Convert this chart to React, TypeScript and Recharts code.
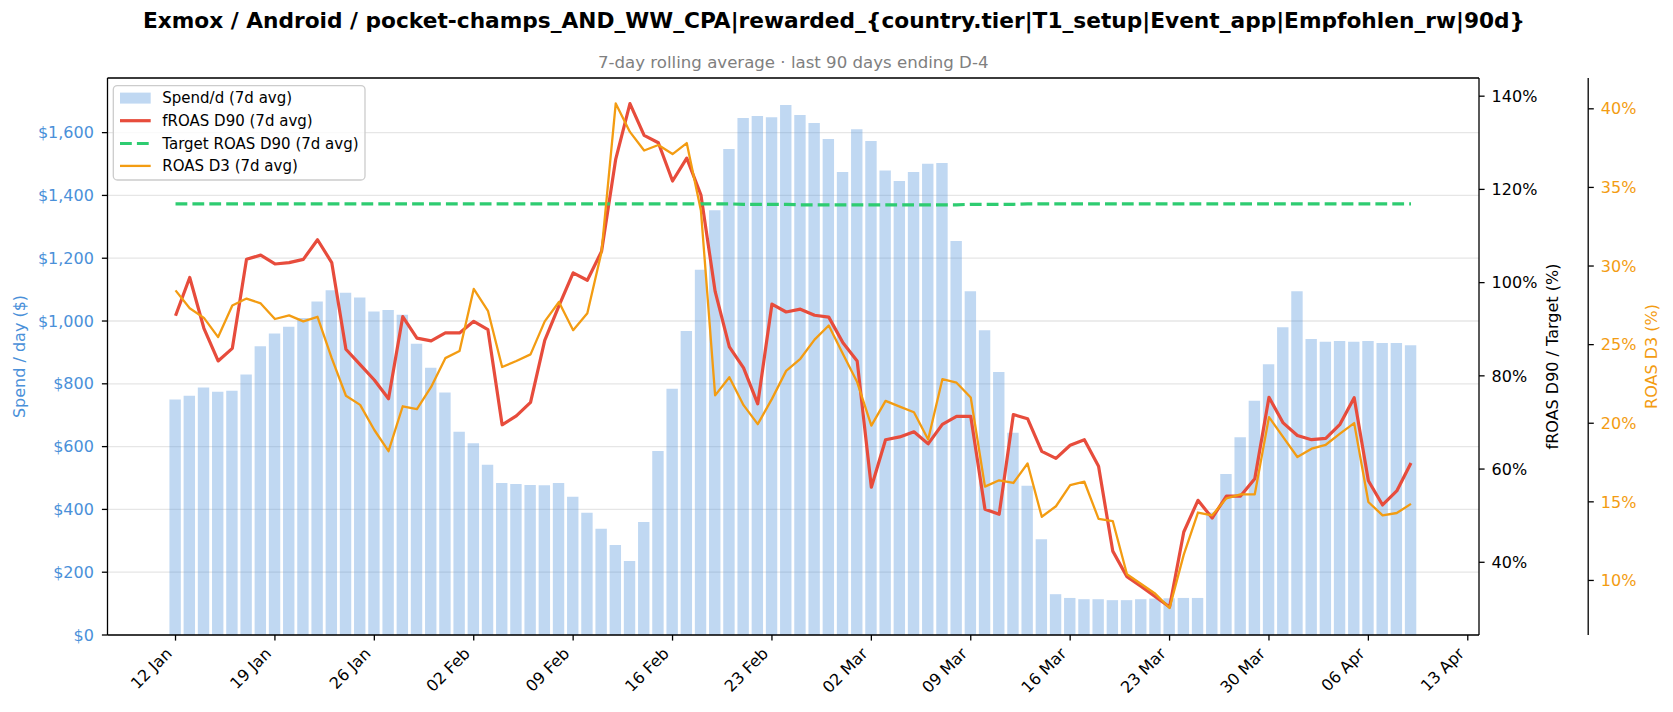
import React from 'react';
import { ComposedChart, Bar, Line, XAxis, YAxis, CartesianGrid, ReferenceLine } from 'recharts';

// ---------- data ----------
const spend = [
  750, 762, 788, 775, 778, 830, 920, 960, 982, 1010, 1062, 1098, 1090, 1075, 1030, 1035, 1020, 928, 851, 772,
  647, 611, 542, 484, 481, 478, 477, 484, 440, 389, 338, 287, 236, 360, 586, 784, 968, 1163, 1353, 1548,
  1647, 1653, 1649, 1688, 1656, 1631, 1580, 1475, 1611, 1573, 1479, 1446, 1475, 1501, 1503, 1255, 1095, 971, 838, 644,
  475, 305, 130, 118, 114, 114, 111, 111, 114, 116, 117, 118, 118, 390, 513, 630, 746, 862, 980, 1095,
  943, 934, 936, 934, 936, 930, 930, 923,
];

const froasD90 = [
  92.9, 101.1, 90.2, 83.2, 85.9, 105.0, 105.9, 104.0, 104.3, 105.0, 109.2, 104.3, 85.7, 82.4, 79.1, 75.1, 92.7, 88.1, 87.5, 89.2,
  89.2, 91.7, 89.9, 69.5, 71.4, 74.3, 87.6, 95.0, 102.1, 100.5, 106.7, 126.5, 138.4, 131.6, 130.0, 121.8, 126.7, 118.8, 98.1, 86.2,
  81.7, 74.0, 95.4, 93.7, 94.3, 93.0, 92.6, 87.1, 83.2, 56.1, 66.3, 66.9, 68.0, 65.4, 69.6, 71.3, 71.3, 51.4, 50.3, 71.7,
  70.8, 63.8, 62.3, 65.1, 66.3, 60.6, 42.4, 36.9, 34.8, 32.6, 30.4, 46.5, 53.3, 49.5, 54.2, 54.2, 57.9, 75.4, 69.9, 67.2,
  66.3, 66.6, 69.6, 75.3, 57.5, 52.3, 55.3, 61.3,
];

const targetD90 = [
  116.9, 116.9, 116.9, 116.9, 116.9, 116.9, 116.9, 116.9, 116.9, 116.9, 116.9, 116.9, 116.9, 116.9, 116.9, 116.9, 116.9, 116.9, 116.9, 116.9,
  116.9, 116.9, 116.9, 116.9, 116.9, 116.9, 116.9, 116.9, 116.9, 116.9, 116.9, 116.9, 116.9, 116.9, 116.9, 116.9, 116.9, 116.9, 116.9, 116.9,
  116.8, 116.8, 116.8, 116.8, 116.7, 116.7, 116.7, 116.7, 116.7, 116.7, 116.7, 116.7, 116.7, 116.7, 116.7, 116.7, 116.8, 116.8, 116.8, 116.8,
  116.9, 116.9, 116.9, 116.9, 116.9, 116.9, 116.9, 116.9, 116.9, 116.9, 116.9, 116.9, 116.9, 116.9, 116.9, 116.9, 116.9, 116.9, 116.9, 116.9,
  116.9, 116.9, 116.9, 116.9, 116.9, 116.9, 116.9, 116.9,
];

const roasD3 = [
  28.45, 27.31, 26.7, 25.48, 27.49, 27.93, 27.62, 26.63, 26.86, 26.48, 26.77, 24.14, 21.75, 21.17, 19.57, 18.22, 21.08, 20.9, 22.31, 24.14,
  24.59, 28.54, 27.15, 23.58, 23.96, 24.38, 26.48, 27.71, 25.92, 27.0, 30.9, 40.34, 38.53, 37.35, 37.7, 37.12, 37.82, 33.51, 21.77, 22.93,
  21.15, 19.94, 21.55, 23.33, 24.1, 25.32, 26.22, 24.41, 22.62, 19.85, 21.42, 21.06, 20.7, 18.96, 22.8, 22.58, 21.64, 15.97, 16.37, 16.2,
  17.44, 14.05, 14.72, 16.06, 16.28, 13.92, 13.78, 10.39, 9.77, 9.15, 8.25, 11.64, 14.32, 14.14, 15.22, 15.48, 15.48, 20.39, 19.12, 17.85,
  18.38, 18.63, 19.34, 20.01, 14.99, 14.14, 14.29, 14.87,
];

const tickDays = [0, 7, 14, 21, 28, 35, 42, 49, 56, 63, 70, 77, 84, 91];
const tickLabels = ['12 Jan', '19 Jan', '26 Jan', '02 Feb', '09 Feb', '16 Feb', '23 Feb', '02 Mar', '09 Mar', '16 Mar', '23 Mar', '30 Mar', '06 Apr', '13 Apr'];
const spendTicks = [0, 200, 400, 600, 800, 1000, 1200, 1400, 1600];
const froasTicks = [40, 60, 80, 100, 120, 140];
const roasTicks = [10, 15, 20, 25, 30, 35, 40];

const data = spend.map((s, i) => ({
  day: i,
  spend: s,
  froas: froasD90[i],
  target: targetD90[i],
  roas: roasD3[i],
}));

// ---------- style ----------
const BLUE = '#4a90d9';
const RED = '#e74c3c';
const GREEN = '#2ecc71';
const ORANGE = '#f39c12';
const FONT = "'DejaVu Sans', sans-serif";

const XTick = (props: any) => {
  const { x, y, payload } = props;
  const idx = tickDays.indexOf(payload.value);
  const px = x - 2.7;
  const py = y + 14;
  return (
    <text x={px} y={py} transform={`rotate(-45 ${px} ${py})`} textAnchor="end" fontSize={16} fill="#000" fontFamily={FONT}>
      {tickLabels[idx]}
    </text>
  );
};

const axisStroke = { stroke: '#000', strokeWidth: 1.3 };
const LEG_FS = 15;

export default function App() {
  return (
    <div style={{ position: 'absolute', left: 0, top: 0, width: 1673, height: 712, background: '#fff', fontFamily: FONT }}>
      <ComposedChart width={1673} height={712} data={data} margin={{ top: 78, right: 0, bottom: 0, left: 0 }}>
        <CartesianGrid yAxisId="left" vertical={false} stroke="#e6e6e6" strokeWidth={1.3} />
        <XAxis
          dataKey="day"
          type="number"
          domain={[-4.79, 91.79]}
          allowDataOverflow
          ticks={tickDays}
          interval={0}
          height={77}
          tick={<XTick />}
          tickSize={5.6}
          tickMargin={0}
          axisLine={axisStroke}
          tickLine={axisStroke}
        />
        <YAxis
          yAxisId="left"
          orientation="left"
          type="number"
          width={107.5}
          domain={[0, 1774]}
          allowDataOverflow
          ticks={spendTicks}
          interval={0}
          tickFormatter={(v: number) => '$' + v.toLocaleString('en-US')}
          tick={{ fill: BLUE, fontSize: 16, fontFamily: FONT }}
          tickSize={5.6}
          tickMargin={8}
          axisLine={axisStroke}
          tickLine={axisStroke}
        />
        <YAxis
          yAxisId="r1"
          orientation="right"
          type="number"
          width={109.2}
          domain={[24.4, 143.9]}
          allowDataOverflow
          ticks={froasTicks}
          interval={0}
          tickFormatter={(v: number) => `${v}%`}
          tick={{ fill: '#000', fontSize: 16, fontFamily: FONT }}
          tickSize={5.6}
          tickMargin={7}
          axisLine={axisStroke}
          tickLine={axisStroke}
        />
        <YAxis
          yAxisId="r2"
          orientation="right"
          type="number"
          width={84.8}
          domain={[6.53, 41.96]}
          allowDataOverflow
          ticks={roasTicks}
          interval={0}
          tickFormatter={(v: number) => `${v}%`}
          tick={{ fill: ORANGE, fontSize: 16, fontFamily: FONT }}
          tickSize={5.6}
          tickMargin={7}
          axisLine={axisStroke}
          tickLine={axisStroke}
        />
        <ReferenceLine yAxisId="left" y={1774} stroke="#000" strokeWidth={1.3} />
        <Bar yAxisId="left" dataKey="spend" fill={BLUE} fillOpacity={0.35} barSize={11.4} isAnimationActive={false} />
        <Line yAxisId="r1" type="linear" dataKey="froas" stroke={RED} strokeWidth={3.2} strokeLinejoin="round" dot={false} activeDot={false} isAnimationActive={false} />
        <Line yAxisId="r1" type="linear" dataKey="target" stroke={GREEN} strokeWidth={3.2} strokeDasharray="11.8 5.1" dot={false} activeDot={false} isAnimationActive={false} />
        <Line yAxisId="r2" type="linear" dataKey="roas" stroke={ORANGE} strokeWidth={2.3} strokeLinejoin="round" dot={false} activeDot={false} isAnimationActive={false} />
      </ComposedChart>

      <svg width={1673} height={712} style={{ position: 'absolute', left: 0, top: 0, pointerEvents: 'none' }} fontFamily={FONT}>
        <text x={834} y={27.5} textAnchor="middle" fontSize={21.7} fontWeight="bold" fill="#000">
          {'Exmox / Android / pocket-champs_AND_WW_CPA|rewarded_{country.tier|T1_setup|Event_app|Empfohlen_rw|90d}'}
        </text>
        <text x={793.25} y={67.5} textAnchor="middle" fontSize={16.6} fill="#808080">
          7-day rolling average · last 90 days ending D-4
        </text>
        <text x={19.5} y={356.5} transform="rotate(-90 19.5 356.5)" textAnchor="middle" dominantBaseline="central" fontSize={16} fill={BLUE}>
          Spend / day ($)
        </text>
        <text x={1552} y={356.5} transform="rotate(-90 1552 356.5)" textAnchor="middle" dominantBaseline="central" fontSize={16} fill="#000">
          fROAS D90 / Target (%)
        </text>
        <text x={1651} y={356.5} transform="rotate(-90 1651 356.5)" textAnchor="middle" dominantBaseline="central" fontSize={16} fill={ORANGE}>
          ROAS D3 (%)
        </text>

        {/* legend */}
        <rect x={113.3} y={85.6} width={251.7} height={94.4} rx={4} fill="#fff" fillOpacity={0.8} stroke="#cccccc" strokeWidth={1.3} />
        <rect x={120} y={92.6} width={30.7} height={11} fill={BLUE} fillOpacity={0.35} />
        <line x1={120} x2={150.7} y1={120.7} y2={120.7} stroke={RED} strokeWidth={3.2} />
        <line x1={120} x2={150.7} y1={143.5} y2={143.5} stroke={GREEN} strokeWidth={3.2} strokeDasharray="11.8 5.1" />
        <line x1={120} x2={150.7} y1={165.9} y2={165.9} stroke={ORANGE} strokeWidth={2.3} />
        <text x={162.3} y={97.9} dominantBaseline="central" fontSize={LEG_FS} fill="#000">Spend/d (7d avg)</text>
        <text x={162.3} y={120.7} dominantBaseline="central" fontSize={LEG_FS} fill="#000">fROAS D90 (7d avg)</text>
        <text x={162.3} y={143.5} dominantBaseline="central" fontSize={LEG_FS} fill="#000">Target ROAS D90 (7d avg)</text>
        <text x={162.3} y={165.9} dominantBaseline="central" fontSize={LEG_FS} fill="#000">ROAS D3 (7d avg)</text>
      </svg>
    </div>
  );
}
